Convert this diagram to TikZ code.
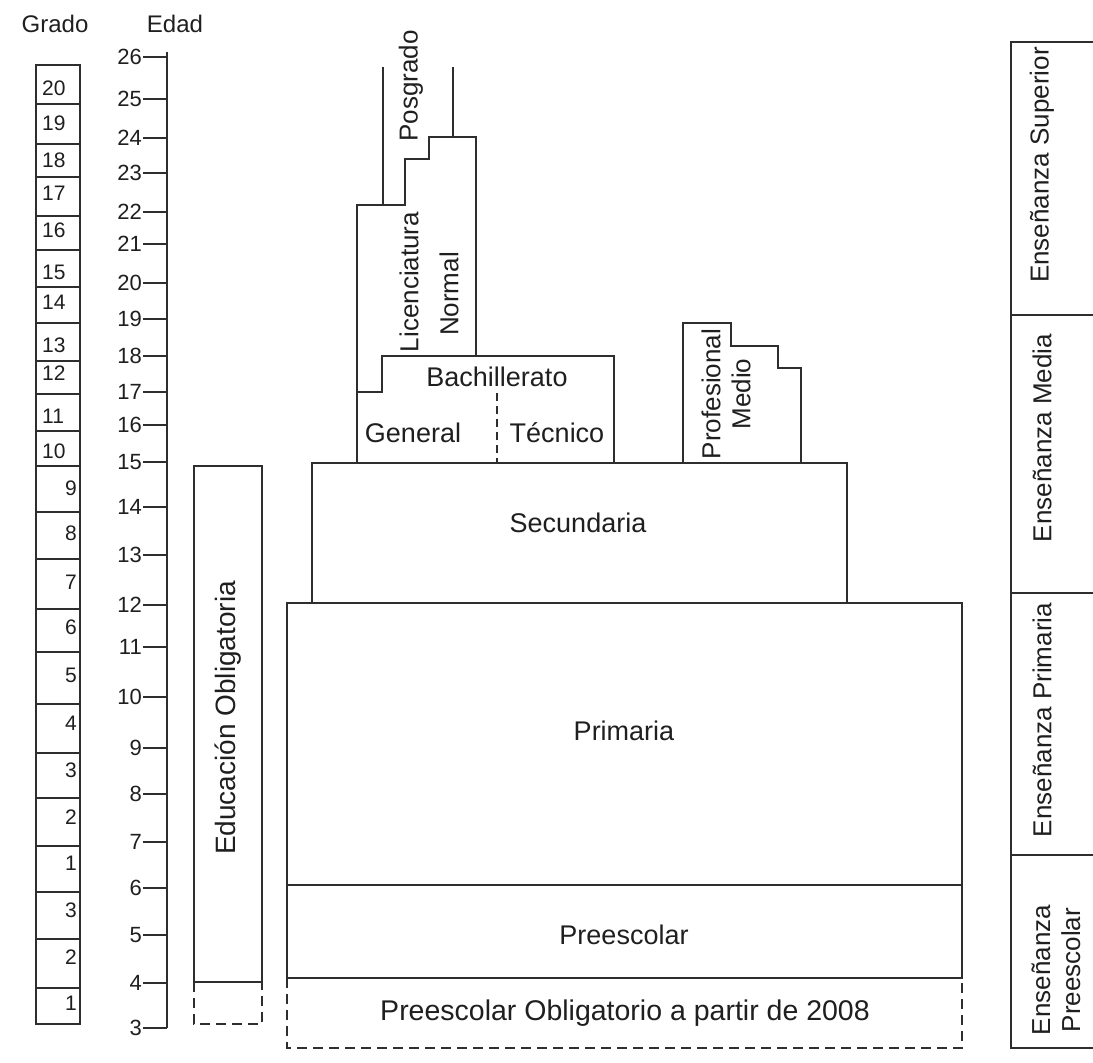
\documentclass[tikz,border=0pt]{standalone}
\usepackage{fontspec}
\setmainfont{Liberation Sans}
\begin{document}
\begin{tikzpicture}[x=1pt,y=-1pt,
  ln/.style={line width=1.4pt,draw=black!82},
  dsh/.style={ln,dash pattern=on 10pt off 6pt},
  lbl/.style={font=\fontsize{27}{31}\selectfont,text=black!88,inner sep=0pt,align=center},
  vlbl/.style={lbl,font=\fontsize{26}{30}\selectfont,rotate=90},
  hdr/.style={font=\fontsize{24}{28}\selectfont,text=black!88,inner sep=0pt},
  tick/.style={font=\fontsize{22}{26}\selectfont,text=black!88,inner sep=0pt,anchor=east},
  grd/.style={font=\fontsize{21}{25}\selectfont,text=black!88,inner sep=0pt}]
\useasboundingbox[fill=white] (0,0) rectangle (1093,1063);

% headers
\node[hdr] (grado) at (55,24) {Grado};
\node[hdr] (edad) at (175,24) {Edad};

% grade boxes
\foreach \t/\b/\g/\ly/\side [count=\i] in {65/104/20/88/l,104/144/19/123/l,144/177/18/160/l,177/216/17/193/l,216/250/16/230/l,250/287/15/272/l,287/323/14/302/l,323/361/13/345/l,361/394/12/373/l,394/431/11/416/l,431/466/10/451/l,466/512/9/488/r,512/559/8/533/r,559/609/7/582/r,609/652/6/627/r,652/704/5/675/r,704/753/4/723/r,753/798/3/770/r,798/846/2/817/r,846/892/1/863/r,892/939/3/910/r,939/988/2/957/r,988/1024/1/1003/r}{
  \draw[ln] (36,\t) rectangle (80,\b);
  \if\side l
    \node[grd,anchor=west] (g\i) at (42,\ly) {\g};
  \else
    \node[grd,anchor=east] (g\i) at (77,\ly) {\g};
  \fi
}

% age axis
\draw[ln] (167,52) -- (167,1028);
\foreach \a/\y in {26/57,25/99,24/138,23/173,22/212,21/244,20/283,19/319,18/356,17/392,16/425,15/462,14/507,13/555,12/605,11/647,10/697,9/748,8/794,7/842,6/888,5/935,4/983,3/1028}{
  \draw[ln] (143,\y) -- (167,\y);
  \node[tick] (age\a) at (142,\y) {\a};
}

% Educacion Obligatoria
\draw[ln] (194,982) -- (194,466) -- (262,466) -- (262,982) -- cycle;
\draw[dsh] (194,982) -- (194,1024) -- (262,1024) -- (262,982);
\node[vlbl,font=\fontsize{28}{32}\selectfont] (eduob) at (228,718) {Educación Obligatoria};

% Primaria / Preescolar
\draw[ln] (287,603) rectangle (962,978);
\draw[ln] (287,885) -- (962,885);
\draw[dsh] (287,978) -- (287,1048) -- (962,1048) -- (962,978);
\node[lbl] (prim) at (624,731) {Primaria};
\node[lbl] (pree) at (624,935) {Preescolar};
\node[lbl,font=\fontsize{28.5}{32}\selectfont] (preeob) at (625,1013) {Preescolar Obligatorio a partir de 2008};

% Secundaria
\draw[ln] (312,603) -- (312,463) -- (847,463) -- (847,603);
\node[lbl] (secu) at (578,523) {Secundaria};

% Bachillerato and upper levels
\draw[ln] (357,463) -- (357,205) -- (405,205) -- (405,159) -- (429,159) -- (429,137) -- (476,137) -- (476,356);
\draw[ln] (357,392) -- (382,392) -- (382,356) -- (614,356) -- (614,463);
\draw[ln] (383,205) -- (383,67);
\draw[ln] (453,137) -- (453,67);
\draw[dsh,dash pattern=on 8pt off 5pt] (497,393) -- (497,463);
\node[lbl] (bach) at (497,377) {Bachillerato};
\node[lbl] (gen) at (413,433) {General};
\node[lbl] (tec) at (557,433) {Técnico};
\node[vlbl] (lic) at (409,282) {Licenciatura};
\node[vlbl] (norm) at (449,294) {Normal};
\node[vlbl] (posg) at (411,86) {Posgrado};

% Profesional Medio
\draw[ln] (683,463) -- (683,323) -- (731,323) -- (731,346) -- (778,346) -- (778,368) -- (801,368) -- (801,463);
\node[vlbl] (prof) at (726,394) {Profesional\\Medio};

% right column
\draw[ln] (1093,42) -- (1011,42) -- (1011,1048) -- (1093,1048);
\foreach \y in {315,593,855}{ \draw[ln] (1011,\y) -- (1093,\y); }
\node[vlbl] (esup) at (1042,165) {Enseñanza Superior};
\node[vlbl] (emed) at (1042,438) {Enseñanza Media};
\node[vlbl] (epri) at (1042,720) {Enseñanza Primaria};
\node[vlbl] (epre) at (1056,970) {Enseñanza\\Preescolar};
\end{tikzpicture}
\end{document}
